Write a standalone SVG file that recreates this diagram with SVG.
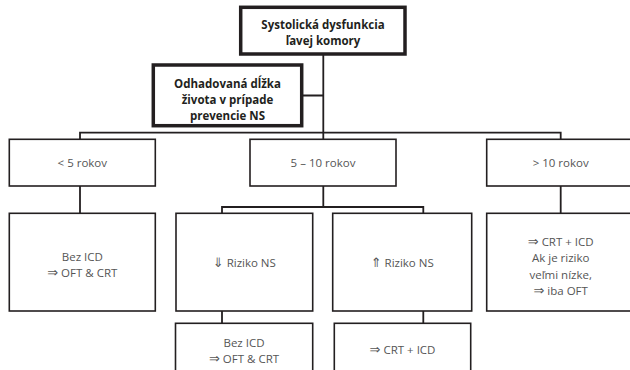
<svg xmlns="http://www.w3.org/2000/svg" width="630" height="370" viewBox="0 0 630 370">
<style>
.box{fill:#fff;stroke:#231f20;stroke-width:1.6}
.bbox{fill:#fff;stroke:#231f20;stroke-width:3.5}
.con{fill:none;stroke:#231f20;stroke-width:1.8}
.t{font-family:"Open Sans","Noto Sans",sans-serif;font-size:11.5px;fill:#555;text-anchor:middle}
.b{font-family:"Open Sans","Noto Sans",sans-serif;font-size:11.5px;font-weight:bold;fill:#231f20;text-anchor:middle}
.a{font-family:"DejaVu Sans",sans-serif;font-size:13px}
</style>
<rect width="630" height="370" fill="#fff"/>
<g id="connectors">
<path class="con" d="M323.3 54 V132.7 M301.7 95.5 H323.3 M80 139 V132.7 H560.7 V139 M323.3 132.7 V139"/>
<path class="con" d="M80 186 V213.3"/>
<path class="con" d="M323.3 186 V207 M222 213.3 V207 H423.3 V213.3"/>
<path class="con" d="M560.7 186 V213.3"/>
<path class="con" d="M222 311 V323.3 M423.3 311 V323.3"/>
</g>
<g id="n-top">
<rect class="bbox" x="240.7" y="7.3" width="164.3" height="46.7"/>
<text class="b" x="323" y="29">Systolická dysfunkcia</text>
<text class="b" x="323" y="45">ľavej komory</text>
</g>
<g id="n-life">
<rect class="bbox" x="153.3" y="65" width="148.4" height="60.7"/>
<text class="b" x="227.5" y="87.5">Odhadovaná dĺžka</text>
<text class="b" x="227.5" y="103.5">života v prípade</text>
<text class="b" x="227.5" y="119.5">prevencie NS</text>
</g>
<g id="n-lt5">
<rect class="box" x="9.3" y="139.3" width="146" height="46.7"/>
<text class="t" x="82.3" y="167">&lt; 5 rokov</text>
</g>
<g id="n-5to10">
<rect class="box" x="250" y="139.3" width="146" height="46.7"/>
<text class="t" x="323" y="167">5 – 10 rokov</text>
</g>
<g id="n-gt10">
<rect class="box" x="486.7" y="139.3" width="148" height="46.7"/>
<text class="t" x="560.7" y="167">&gt; 10 rokov</text>
</g>
<g id="n-bez1">
<rect class="box" x="9.3" y="213.3" width="146" height="97.7"/>
<text class="t" x="82.3" y="261">Bez ICD</text>
<text class="t" x="82.3" y="277"><tspan class="a">⇒</tspan> OFT &amp; CRT</text>
</g>
<g id="n-low">
<rect class="box" x="176" y="213.3" width="136.7" height="97.7"/>
<text class="t" x="244.3" y="267"><tspan class="a">⇓</tspan> Riziko NS</text>
</g>
<g id="n-high">
<rect class="box" x="332.7" y="213.3" width="139" height="97.7"/>
<text class="t" x="402.2" y="267"><tspan class="a">⇑</tspan> Riziko NS</text>
</g>
<g id="n-gt10res">
<rect class="box" x="486.7" y="213.3" width="148" height="97.7"/>
<text class="t" x="560.7" y="245.5"><tspan class="a">⇒</tspan> CRT + ICD</text>
<text class="t" x="560.7" y="262">Ak je riziko</text>
<text class="t" x="560.7" y="278.5">veľmi nízke,</text>
<text class="t" x="560.7" y="295"><tspan class="a">⇒</tspan> iba OFT</text>
</g>
<g id="n-bez2">
<rect class="box" x="175.5" y="323.3" width="137.2" height="60"/>
<text class="t" x="244" y="346.5">Bez ICD</text>
<text class="t" x="244" y="363"><tspan class="a">⇒</tspan> OFT &amp; CRT</text>
</g>
<g id="n-crticd">
<rect class="box" x="334.3" y="323.3" width="136.4" height="60"/>
<text class="t" x="402.5" y="353.5"><tspan class="a">⇒</tspan> CRT + ICD</text>
</g>
</svg>
